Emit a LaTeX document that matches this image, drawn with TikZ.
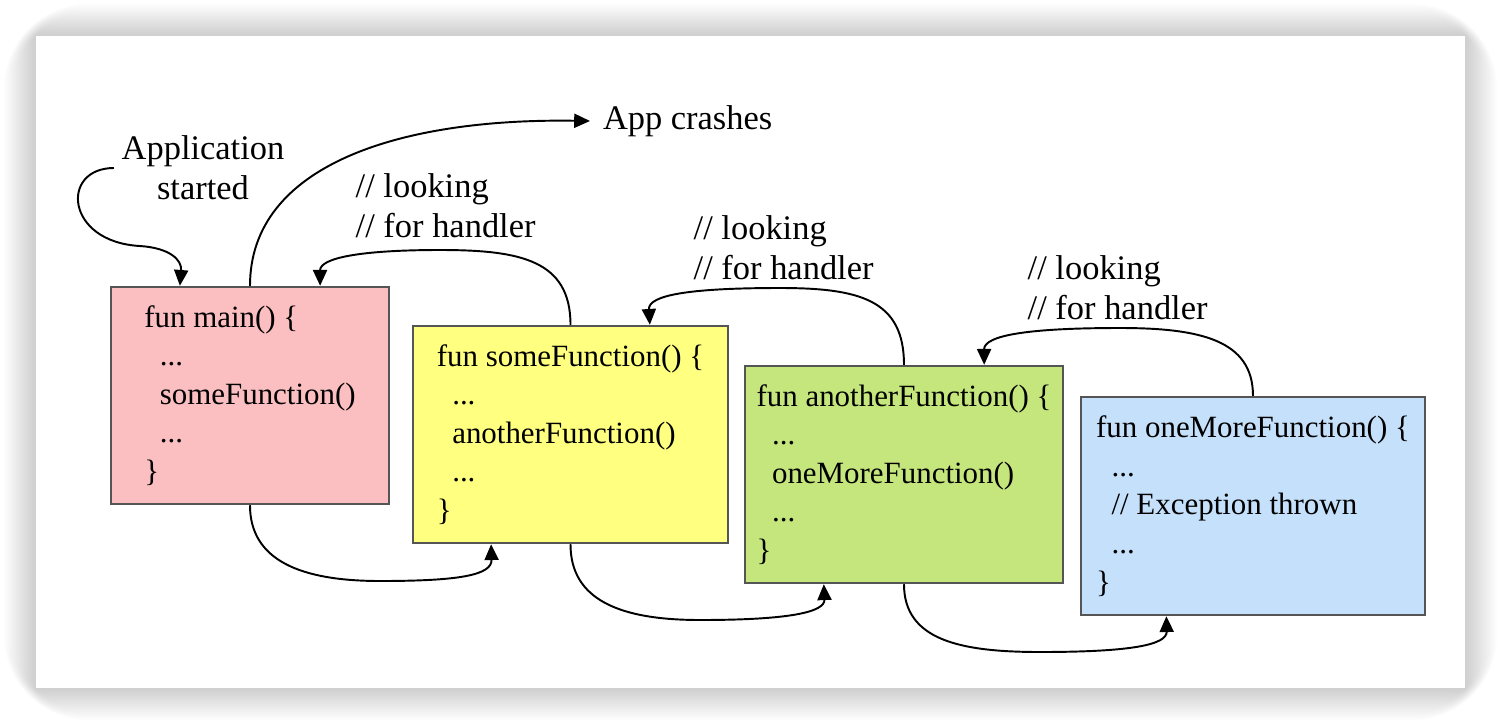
\documentclass[tikz,border=0pt]{standalone}
\usepackage{fontspec}
\setmainfont{Liberation Serif}
\newfontfamily\timesfont{Liberation Serif}
\usetikzlibrary{calc,arrows.meta}
\definecolor{mainred}{RGB}{251,191,193}
\definecolor{someyellow}{RGB}{255,255,128}
\definecolor{anothergreen}{RGB}{197,230,124}
\definecolor{moreblue}{RGB}{197,224,250}
\definecolor{boxgray}{RGB}{85,85,85}
\newcommand{\ind}{\hspace*{0.5em}}

\begin{document}
\begin{tikzpicture}[
	box/.style={draw=boxgray, line width=0.7pt, minimum height=2.17cm, align=left, font=\timesfont\fontsize{8.8}{11}\selectfont},
	edge/.style={line width=0.55pt, -{Triangle[length=4.5pt,width=4pt]}},
	lbl/.style={font=\timesfont\fontsize{9.8}{11.4}\selectfont, inner sep=2pt}]
		\useasboundingbox (0,0) rectangle (15,-7.24);
		% card and shadow
		\foreach \d in {1,...,16}
		\fill[black, opacity=0.011, rounded corners=1.5*\d pt] (0.36-\d*0.02,-0.36+\d*0.02) rectangle (14.65+\d*0.02,-6.88-\d*0.02);
		\fill[white] (0.36,-0.36) rectangle (14.65,-6.88);
		% boxes
		\node[box, fill=mainred, minimum width=2.78cm] (main) at (2.50,-3.955) {fun main() \{\\ \ind...\\ \ind someFunction()\\ \ind...\\ \}};
		\node[box, fill=someyellow, minimum width=3.15cm] (some) at (5.705,-4.345) {fun someFunction() \{\\ \ind...\\ \ind anotherFunction()\\ \ind...\\ \}};
		\node[box, fill=anothergreen, minimum width=3.16cm] (another) at (9.04,-4.745) {fun anotherFunction() \{\\ \ind...\\ \ind oneMoreFunction()\\ \ind...\\ \}};
		\node[box, fill=moreblue, minimum width=3.44cm, minimum height=2.18cm] (oneMore) at (12.53,-5.06) {fun oneMoreFunction() \{\\ \ind...\\ \ind // Exception thrown\\ \ind...\\ \}};
		% labels
		\node[lbl, align=center] (start) at (2.03,-1.68) {Application\\started};
		\node[lbl, anchor=west, inner sep=3.5pt] (crash) at (5.90,-1.21) {App crashes};
		\node[lbl, anchor=west, align=left] (look1) at (3.48,-2.06) {// looking\\// for handler};
		\node[lbl, anchor=west, align=left] (look2) at (6.86,-2.48) {// looking\\// for handler};
		\node[lbl, anchor=west, align=left] (look3) at (10.20,-2.88) {// looking\\// for handler};
		% arrow ends on the boxes
		\coordinate (mainA) at ($(main.north west)!0.25!(main.north east)$);
		\coordinate (mainB) at ($(main.north west)!0.75!(main.north east)$);
		\coordinate (someA) at ($(some.south west)!0.25!(some.south east)$);
		\coordinate (someB) at ($(some.north west)!0.75!(some.north east)$);
		\coordinate (anotherA) at ($(another.south west)!0.25!(another.south east)$);
		\coordinate (anotherB) at ($(another.north west)!0.75!(another.north east)$);
		\coordinate (oneMoreA) at ($(oneMore.south west)!0.25!(oneMore.south east)$);
		% calls
		\draw[edge] (start.west) .. controls (0.60,-1.68) and (0.65,-2.42) .. (1.40,-2.46) .. controls (1.70,-2.48) and (1.82,-2.60) .. (mainA);
		\draw[edge] (main.south) .. controls (2.50,-5.60) and (3.00,-5.81) .. (3.80,-5.81) .. controls (4.60,-5.81) and (4.92,-5.75) .. (someA);
		\draw[edge] (some.south) .. controls (5.705,-6.00) and (6.20,-6.20) .. (7.00,-6.20) .. controls (7.90,-6.20) and (8.25,-6.12) .. (anotherA);
		\draw[edge] (another.south) .. controls (9.04,-6.40) and (9.60,-6.52) .. (10.40,-6.52) .. controls (11.30,-6.52) and (11.67,-6.45) .. (oneMoreA);
		% looking for handler
		\draw[edge] (oneMore.north) .. controls (12.53,-3.40) and (12.00,-3.28) .. (11.20,-3.28) .. controls (10.30,-3.28) and (9.84,-3.35) .. (anotherB);
		\draw[edge] (another.north) .. controls (9.04,-3.00) and (8.60,-2.88) .. (7.80,-2.88) .. controls (6.90,-2.88) and (6.48,-2.95) .. (someB);
		\draw[edge] (some.north) .. controls (5.705,-2.60) and (5.20,-2.50) .. (4.40,-2.50) .. controls (3.60,-2.50) and (3.20,-2.58) .. (mainB);
		\draw[edge] (main.north) .. controls (2.50,-1.65) and (4.00,-1.18) .. (crash.west);
	\end{tikzpicture}
\end{document}
